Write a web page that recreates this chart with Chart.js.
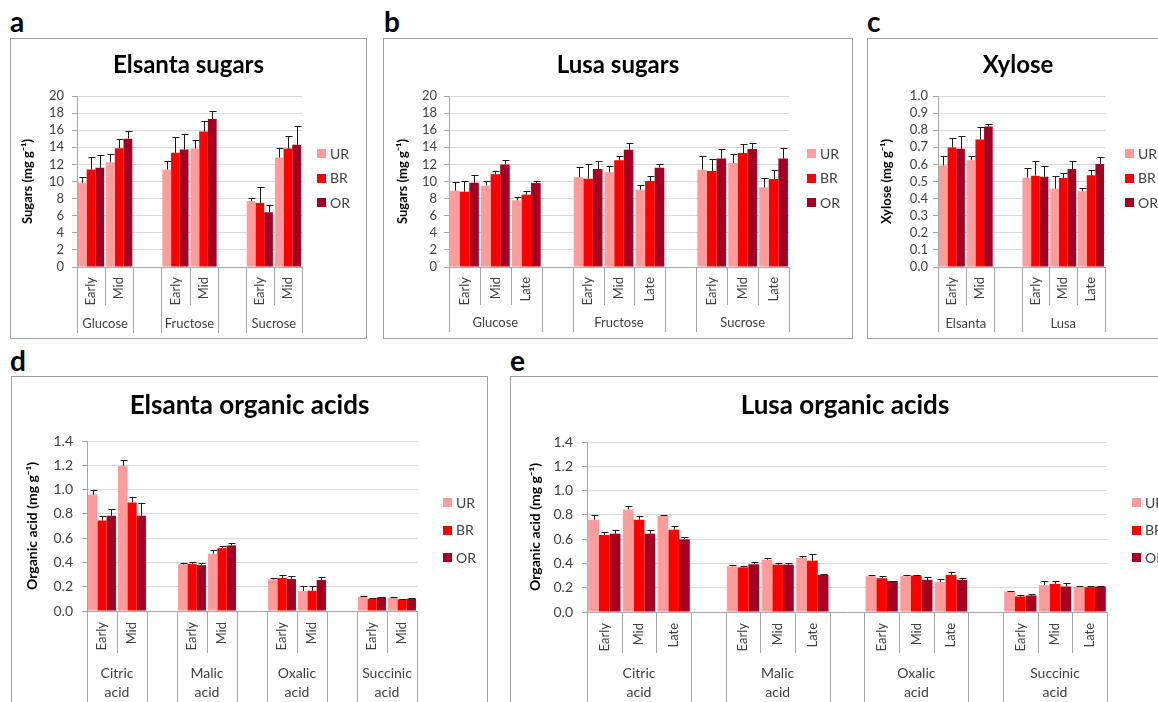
<!DOCTYPE html>
<html>
<head>
<meta charset="utf-8">
<script src="https://cdn.jsdelivr.net/npm/chart.js@4.4.1/dist/chart.umd.min.js"></script>
<style>
html, body { margin: 0; padding: 0; background: #fff; }
body { width: 1158px; height: 702px; position: relative; overflow: hidden; font-family: Lato, sans-serif; }
.box { position: absolute; border: 1px solid #a0a0a0; box-sizing: border-box; }
.box canvas { position: absolute; left: 0; top: 0; }
.tag { position: absolute; font: bold 28px Lato, sans-serif; line-height: 28px; color: #000; }
</style>
</head>
<body>
<div class="tag" style="left:10px;top:7px">a</div>
<div class="tag" style="left:384px;top:7px">b</div>
<div class="tag" style="left:867px;top:7px">c</div>
<div class="tag" style="left:10px;top:346px">d</div>
<div class="tag" style="left:510px;top:346px">e</div>

<div class="box" style="left:10px;top:38px;width:357px;height:301px"><canvas id="chartA" width="355" height="299"></canvas></div>
<div class="box" style="left:383px;top:38px;width:470px;height:301px"><canvas id="chartB" width="468" height="299"></canvas></div>
<div class="box" style="left:867px;top:38px;width:302px;height:301px"><canvas id="chartC" width="300" height="299"></canvas></div>
<div class="box" style="left:11px;top:376px;width:477px;height:340px"><canvas id="chartD" width="475" height="338"></canvas></div>
<div class="box" style="left:510px;top:376px;width:670px;height:340px"><canvas id="chartE" width="668" height="338"></canvas></div>

<script>
// series
const seriesNames = ['UR', 'BR', 'OR'];
const seriesColors = ['#ff9b9b', '#ff0000', '#a50021'];

const stages2 = ['Early', 'Mid'];
const stages3 = ['Early', 'Mid', 'Late'];

// y tick labels
const sugarTicks = [0, 2, 4, 6, 8, 10, 12, 14, 16, 18, 20];
const xyloseTicks = [0, 0.1, 0.2, 0.3, 0.4, 0.5, 0.6, 0.7, 0.8, 0.9, 1.0];
const acidTicks = [0, 0.2, 0.4, 0.6, 0.8, 1.0, 1.2, 1.4];

// a - Elsanta sugars (Glucose/Fructose/Sucrose x Early/Mid)
const sugarNames = ['Glucose', 'Fructose', 'Sucrose'];
const elsantaSugarUR = [9.85, 12.25, 11.4, 13.85, 7.7, 12.8];
const elsantaSugarBR = [11.4, 13.9, 13.35, 15.85, 7.5, 13.85];
const elsantaSugarOR = [11.6, 15.0, 13.75, 17.3, 6.4, 14.3];
const elsantaSugarErrUR = [0.65, 0.95, 1.0, 1.0, 0.35, 1.1];
const elsantaSugarErrBR = [1.45, 1.05, 1.8, 1.2, 1.85, 1.45];
const elsantaSugarErrOR = [1.5, 0.95, 1.75, 1.0, 0.85, 2.15];

// b - Lusa sugars (Early/Mid/Late)
const lusaSugarUR = [8.93, 9.51, 7.8, 10.49, 11.07, 9.04, 11.38, 12.16, 9.32];
const lusaSugarBR = [8.81, 10.84, 8.46, 10.33, 12.48, 10.06, 11.23, 13.33, 10.29];
const lusaSugarOR = [9.86, 12.0, 9.82, 11.46, 13.72, 11.62, 12.7, 13.8, 12.7];
const lusaSugarErrUR = [1.07, 0.6, 0.39, 1.2, 0.7, 0.51, 1.56, 1.04, 1.05];
const lusaSugarErrBR = [1.29, 0.35, 0.43, 1.72, 0.46, 0.54, 1.37, 1.02, 1.01];
const lusaSugarErrOR = [0.86, 0.5, 0.28, 0.9, 0.78, 0.38, 1.1, 0.7, 1.2];

// c - Xylose (Elsanta Early/Mid, Lusa Early/Mid/Late)
const cultivarNames = ['Elsanta', 'Lusa'];
const xyloseUR = [0.594, 0.625, 0.522, 0.458, 0.443];
const xyloseBR = [0.699, 0.746, 0.534, 0.52, 0.536];
const xyloseOR = [0.691, 0.821, 0.528, 0.573, 0.602];
const xyloseErrUR = [0.055, 0.027, 0.059, 0.076, 0.017];
const xyloseErrBR = [0.058, 0.07, 0.083, 0.031, 0.031];
const xyloseErrOR = [0.078, 0.018, 0.06, 0.046, 0.039];

// d - Elsanta organic acids
const acidNames = ['Citric\nacid', 'Malic\nacid', 'Oxalic\nacid', 'Succinic\nacid'];
const elsantaAcidUR = [0.959, 1.195, 0.384, 0.471, 0.26, 0.164, 0.118, 0.11];
const elsantaAcidBR = [0.745, 0.893, 0.389, 0.518, 0.271, 0.167, 0.101, 0.096];
const elsantaAcidOR = [0.784, 0.784, 0.378, 0.54, 0.263, 0.255, 0.112, 0.101];
const elsantaAcidErrUR = [0.041, 0.052, 0.008, 0.028, 0.008, 0.039, 0.003, 0.003];
const elsantaAcidErrBR = [0.041, 0.047, 0.011, 0.019, 0.022, 0.036, 0.009, 0.003];
const elsantaAcidErrOR = [0.052, 0.109, 0.019, 0.022, 0.027, 0.027, 0.003, 0.009];

// e - Lusa organic acids
const lusaAcidUR = [0.76, 0.845, 0.79, 0.376, 0.431, 0.445, 0.295, 0.295, 0.246, 0.169, 0.221, 0.207];
const lusaAcidBR = [0.634, 0.76, 0.678, 0.368, 0.39, 0.423, 0.278, 0.30, 0.306, 0.128, 0.232, 0.205];
const lusaAcidOR = [0.645, 0.645, 0.598, 0.393, 0.39, 0.306, 0.254, 0.265, 0.265, 0.136, 0.21, 0.21];
const lusaAcidErrUR = [0.036, 0.028, 0.01, 0.014, 0.016, 0.016, 0.013, 0.013, 0.024, 0.008, 0.038, 0.008];
const lusaAcidErrBR = [0.025, 0.028, 0.033, 0.012, 0.01, 0.052, 0.017, 0.008, 0.022, 0.014, 0.027, 0.008];
const lusaAcidErrOR = [0.027, 0.027, 0.017, 0.017, 0.016, 0.008, 0.005, 0.022, 0.019, 0.011, 0.028, 0.008];

const FONT = "Lato, 'Noto Sans', sans-serif";
const TXT = '#404040';
const AXIS = '#a6a6a6';
const GRID = '#d9d9d9';

// category slots with an empty slot between groups (like the Excel layout)
function slotLayout(groupNames, stageLists) {
    const labels = [], blocks = [], real = [];
    groupNames.forEach((g, gi) => {
        if (gi > 0) { labels.push(''); blocks.push({ name: '', size: 1 }); }
        stageLists[gi].forEach(s => { real.push(labels.length); labels.push(s); });
        blocks.push({ name: g, size: stageLists[gi].length });
    });
    return { labels, blocks, real };
}

function spread(values, lay) {
    const out = lay.labels.map(() => null);
    values.forEach((v, i) => { out[lay.real[i]] = v; });
    return out;
}

function decor(cfg) {
    return {
        id: 'decor',
        afterDatasetsDraw(chart) {
            // error bars (positive only, capped)
            const ctx = chart.ctx, ys = chart.scales.y;
            ctx.save();
            ctx.strokeStyle = '#1a1a1a';
            ctx.lineWidth = 1;
            chart.data.datasets.forEach((ds, di) => {
                chart.getDatasetMeta(di).data.forEach((bar, i) => {
                    const v = ds.data[i], e = ds.errors[i];
                    if (v == null || e == null) return;
                    const x = Math.round(bar.x) + 0.5;
                    const y0 = ys.getPixelForValue(v);
                    const y1 = Math.round(ys.getPixelForValue(v + e)) + 0.5;
                    ctx.beginPath();
                    ctx.moveTo(x, y0); ctx.lineTo(x, y1);
                    ctx.moveTo(x - 3, y1); ctx.lineTo(x + 4, y1);
                    ctx.stroke();
                });
            });
            ctx.restore();
        },
        afterDraw(chart) {
            const { ctx, chartArea: A } = chart;
            const xs = chart.scales.x;
            ctx.save();
            // title
            ctx.fillStyle = '#000';
            ctx.font = `bold ${cfg.titleSize}px ${FONT}`;
            ctx.textAlign = 'center';
            ctx.textBaseline = 'middle';
            ctx.fillText(cfg.title, chart.width / 2, cfg.titleY);
            // legend
            ctx.font = `${cfg.legendSize}px ${FONT}`;
            ctx.textAlign = 'left';
            chart.data.datasets.forEach((ds, k) => {
                const y = cfg.legendY + k * cfg.legendGap;
                ctx.fillStyle = ds.backgroundColor;
                ctx.fillRect(cfg.legendX, Math.round(y - 4), 9, 9);
                ctx.fillStyle = TXT;
                ctx.fillText(ds.label, cfg.legendX + 13, y + 1);
            });
            // multi-level category frame
            const step = xs.getPixelForValue(1) - xs.getPixelForValue(0);
            const bound = k => xs.getPixelForValue(k) - step / 2;
            ctx.strokeStyle = AXIS;
            ctx.lineWidth = 1;
            const vline = (x, y2) => {
                const px = Math.round(x) + 0.5;
                ctx.beginPath(); ctx.moveTo(px, A.bottom); ctx.lineTo(px, y2); ctx.stroke();
            };
            ctx.font = `${cfg.groupSize}px ${FONT}`;
            ctx.fillStyle = TXT;
            ctx.textAlign = 'center';
            let k = 0;
            vline(bound(0), cfg.tier2);
            cfg.layout.blocks.forEach(b => {
                for (let j = 1; j < b.size; j++) vline(bound(k + j), cfg.tier1);
                const cx = (bound(k) + bound(k + b.size)) / 2;
                b.name.split('\n').forEach((line, li) => ctx.fillText(line, cx, cfg.groupY[li]));
                k += b.size;
                vline(bound(k), cfg.tier2);
            });
            ctx.restore();
        }
    };
}

function makeChart(id, cfg) {
    const canvas = document.getElementById(id);
    const W = canvas.width, H = canvas.height, A = cfg.area, lay = cfg.layout;
    const datasets = seriesNames.map((name, k) => ({
        label: name,
        data: spread(cfg.values[k], lay),
        errors: spread(cfg.errors[k], lay),
        backgroundColor: seriesColors[k],
        categoryPercentage: 0.93,
        barPercentage: 1.0
    }));
    return new Chart(canvas, {
        type: 'bar',
        data: { labels: lay.labels, datasets },
        options: {
            responsive: false,
            animation: false,
            layout: { padding: { left: 0, top: A.t, right: W - A.r, bottom: 0 } },
            plugins: { legend: { display: false }, title: { display: false }, tooltip: { enabled: false } },
            scales: {
                x: {
                    grid: { display: false, drawTicks: false },
                    border: { display: true, color: AXIS },
                    ticks: { autoSkip: false, minRotation: 90, maxRotation: 90, padding: cfg.labelPad, color: TXT, font: { family: FONT, size: 13 } },
                    afterFit: s => { s.height = H - A.b; }
                },
                y: {
                    min: 0,
                    max: cfg.ticks[cfg.ticks.length - 1],
                    afterBuildTicks: s => { s.ticks = cfg.ticks.map(v => ({ value: v })); },
                    grid: { color: GRID, tickColor: AXIS, tickLength: 5 },
                    border: { color: AXIS },
                    ticks: { autoSkip: false, padding: cfg.tickPad, color: TXT, font: { family: FONT, size: cfg.tickSize }, callback: v => Number(v).toFixed(cfg.decimals) },
                    title: {
                        display: true, text: cfg.yTitle, color: '#000',
                        font: { family: FONT, size: cfg.yTitleSize, weight: 'bold' },
                        padding: { top: cfg.yTitleX - cfg.yTitleSize * 0.6, bottom: 0 }
                    },
                    afterFit: s => { s.width = A.l; }
                }
            }
        },
        plugins: [decor(cfg)]
    });
}

const layA = slotLayout(sugarNames, [stages2, stages2, stages2]);
const layB = slotLayout(sugarNames, [stages3, stages3, stages3]);
const layC = slotLayout(cultivarNames, [stages2, stages3]);
const layD = slotLayout(acidNames, [stages2, stages2, stages2, stages2]);
const layE = slotLayout(acidNames, [stages3, stages3, stages3, stages3]);

makeChart('chartA', {
    layout: layA, title: 'Elsanta sugars', yTitle: 'Sugars (mg g\u207B\u00B9)',
    values: [elsantaSugarUR, elsantaSugarBR, elsantaSugarOR],
    errors: [elsantaSugarErrUR, elsantaSugarErrBR, elsantaSugarErrOR],
    ticks: sugarTicks, decimals: 0,
    area: { l: 66, t: 57, r: 291, b: 228 },
    titleY: 26, titleSize: 24, yTitleX: 17, yTitleSize: 13, tickSize: 13, tickPad: 8, labelPad: 10,
    tier1: 266, tier2: 294, groupY: [285], groupSize: 13,
    legendX: 306, legendY: 114, legendGap: 24.5, legendSize: 14
});

makeChart('chartB', {
    layout: layB, title: 'Lusa sugars', yTitle: 'Sugars (mg g\u207B\u00B9)',
    values: [lusaSugarUR, lusaSugarBR, lusaSugarOR],
    errors: [lusaSugarErrUR, lusaSugarErrBR, lusaSugarErrOR],
    ticks: sugarTicks, decimals: 0,
    area: { l: 65, t: 57, r: 405, b: 228 },
    titleY: 26, titleSize: 24, yTitleX: 19, yTitleSize: 13, tickSize: 13, tickPad: 7, labelPad: 10,
    tier1: 266, tier2: 293, groupY: [284], groupSize: 13,
    legendX: 423, legendY: 114, legendGap: 24.5, legendSize: 14
});

makeChart('chartC', {
    layout: layC, title: 'Xylose', yTitle: 'Xylose (mg g\u207B\u00B9)',
    values: [xyloseUR, xyloseBR, xyloseOR],
    errors: [xyloseErrUR, xyloseErrBR, xyloseErrOR],
    ticks: xyloseTicks, decimals: 1,
    area: { l: 70, t: 57, r: 237, b: 228 },
    titleY: 26, titleSize: 24, yTitleX: 19, yTitleSize: 13, tickSize: 13, tickPad: 5, labelPad: 10,
    tier1: 266, tier2: 293, groupY: [285], groupSize: 13,
    legendX: 257, legendY: 114, legendGap: 24.5, legendSize: 14
});

makeChart('chartD', {
    layout: layD, title: 'Elsanta organic acids', yTitle: 'Organic acid (mg g\u207B\u00B9)',
    values: [elsantaAcidUR, elsantaAcidBR, elsantaAcidOR],
    errors: [elsantaAcidErrUR, elsantaAcidErrBR, elsantaAcidErrOR],
    ticks: acidTicks, decimals: 1,
    area: { l: 75, t: 64, r: 405, b: 234 },
    titleY: 29, titleSize: 26, yTitleX: 20, yTitleSize: 14, tickSize: 14, tickPad: 9, labelPad: 11,
    tier1: 276, tier2: 338, groupY: [296, 315], groupSize: 14,
    legendX: 431, legendY: 125, legendGap: 27.5, legendSize: 14
});

makeChart('chartE', {
    layout: layE, title: 'Lusa organic acids', yTitle: 'Organic acid (mg g\u207B\u00B9)',
    values: [lusaAcidUR, lusaAcidBR, lusaAcidOR],
    errors: [lusaAcidErrUR, lusaAcidErrBR, lusaAcidErrOR],
    ticks: acidTicks, decimals: 1,
    area: { l: 76, t: 65, r: 596, b: 235 },
    titleY: 29, titleSize: 26, yTitleX: 24, yTitleSize: 14, tickSize: 14, tickPad: 9, labelPad: 11,
    tier1: 276, tier2: 338, groupY: [296, 315], groupSize: 14,
    legendX: 621, legendY: 125, legendGap: 27.5, legendSize: 14
});
</script>
</body>
</html>
